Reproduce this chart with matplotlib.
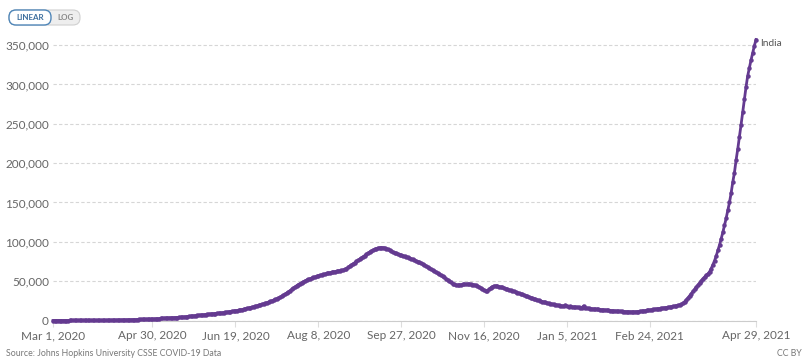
import matplotlib
matplotlib.use("Agg")
import matplotlib.pyplot as plt
from matplotlib.patches import FancyBboxPatch
from matplotlib.transforms import Affine2D
import pandas as pd

# daily new confirmed cases, India (thousands), 7-day average
mar20 = [0, 0, 0, 0, 0, 0, 0, 0, 0, 0, 0.01, 0.01, 0.01, 0.01, 0.02, 0.02, 0.02, 0.03, 0.03, 0.04,
         0.05, 0.06, 0.07, 0.08, 0.08, 0.09, 0.10, 0.11, 0.12, 0.13, 0.14]
apr20 = [0.20, 0.25, 0.30, 0.35, 0.40, 0.45, 0.50, 0.55, 0.60, 0.65, 0.70, 0.75, 0.80, 0.85, 0.90,
         0.95, 1.00, 1.05, 1.10, 1.15, 1.20, 1.30, 1.35, 1.40, 1.45, 1.50, 1.55, 1.60, 1.70, 1.80]
may20 = [1.9, 2.0, 2.2, 2.4, 2.6, 2.8, 3.0, 3.1, 3.2, 3.3, 3.4, 3.5, 3.6, 3.7, 3.8, 3.9, 4.1, 4.3,
         4.5, 4.7, 4.9, 5.1, 5.4, 5.7, 6.0, 6.2, 6.4, 6.6, 6.8, 7.1, 7.4]
jun20 = [7.6, 7.8, 8.0, 8.2, 8.4, 8.6, 8.8, 9.0, 9.2, 9.5, 9.8, 10.1, 10.4, 10.7, 11.0, 11.3, 11.6,
         12.0, 12.3, 12.7, 13.1, 13.5, 13.9, 14.3, 14.8, 15.3, 15.8, 16.4, 16.9, 17.5]
jul20 = [18.0, 18.6, 19.2, 19.8, 20.5, 21.2, 22.0, 22.7, 23.4, 24.2, 25.0, 25.8, 26.7, 27.6, 28.6,
         29.7, 30.8, 32.0, 33.4, 34.9, 36.4, 38.0, 39.6, 41.2, 42.8, 44.3, 45.7, 47.0, 48.2, 49.3, 50.4]
aug20 = [51.4, 52.3, 53.1, 53.9, 54.7, 55.4, 56.1, 56.8, 57.4, 58.0, 58.6, 59.2, 59.8, 60.3, 60.8,
         61.3, 61.8, 62.2, 62.6, 62.9, 63.2, 63.6, 64.2, 65.0, 66.0, 67.5, 69.0, 70.5, 72.0, 73.5, 75.0]
sep20 = [76.5, 78.0, 79.5, 81.0, 82.5, 84.0, 85.5, 87.0, 88.3, 89.5, 90.5, 91.3, 92.0, 92.5, 92.7,
         92.6, 92.3, 91.5, 90.3, 89.0, 87.8, 86.8, 86.0, 85.2, 84.5, 83.8, 83.1, 82.4, 81.7, 81.0]
oct20 = [80.2, 79.4, 78.5, 77.6, 76.7, 75.8, 74.9, 73.9, 72.8, 71.7, 70.5, 69.2, 67.9, 66.6, 65.3,
         64.0, 62.7, 61.4, 60.1, 58.8, 57.5, 56.1, 54.7, 53.2, 51.7, 50.0, 48.3, 46.8, 45.8, 45.2, 45.0]
nov20 = [45.2, 45.5, 45.8, 46.0, 46.2, 46.3, 46.2, 46.0, 45.7, 45.3, 44.7, 43.8, 42.6, 41.2, 39.8,
         38.6, 37.8, 38.0, 39.5, 41.5, 43.0, 43.8, 44.0, 43.7, 43.2, 42.6, 42.0, 41.3, 40.6, 39.9]
dec20 = [39.2, 38.5, 37.7, 36.9, 36.2, 35.4, 34.6, 33.9, 33.1, 32.3, 31.6, 30.8, 30.0, 29.2, 28.4,
         27.6, 26.9, 26.2, 25.5, 24.8, 24.1, 23.5, 22.9, 22.3, 21.8, 21.3, 20.8, 20.4, 20.0, 19.6, 19.2]
jan21 = [18.9, 18.6, 18.3, 19.5, 17.8, 17.6, 17.9, 17.4, 17.2, 17.0, 16.8, 16.6, 16.4, 16.3, 18.5,
         16.0, 15.8, 15.5, 15.2, 14.9, 14.7, 14.5, 14.3, 14.1, 13.9, 13.7, 13.5, 13.3, 13.1, 12.9, 12.7]
feb21 = [12.6, 12.4, 12.2, 12.0, 11.8, 11.6, 11.5, 11.4, 11.3, 11.2, 11.1, 11.0, 11.0, 11.0, 11.1,
         11.2, 11.4, 11.6, 11.9, 12.2, 12.5, 12.8, 13.1, 13.4, 13.7, 14.0, 14.3, 14.6]
mar21 = [14.9, 15.2, 15.5, 15.8, 16.1, 16.4, 16.7, 17.0, 17.4, 17.8, 18.2, 18.7, 19.2, 19.8, 20.5,
         22.0, 24.0, 26.3, 28.8, 31.5, 34.2, 36.9, 39.6, 42.4, 45.2, 47.9, 50.6, 53.2, 55.4, 57.4, 59.3]
apr21 = [62, 66, 71, 76, 82, 89, 96, 104, 112, 121, 130, 140, 150, 162, 176, 188, 204, 218, 233,
         249, 265, 281, 297, 311, 321, 331, 340, 349, 357]

tick_dates = ["2020-03-01", "2020-04-30", "2020-06-19", "2020-08-08", "2020-09-27",
              "2020-11-16", "2021-01-05", "2021-02-24", "2021-04-29"]
tick_labels = ["Mar 1, 2020", "Apr 30, 2020", "Jun 19, 2020", "Aug 8, 2020", "Sep 27, 2020",
               "Nov 16, 2020", "Jan 5, 2021", "Feb 24, 2021", "Apr 29, 2021"]
y_ticks = [0, 50000, 100000, 150000, 200000, 250000, 300000, 350000]

values = [v * 1000 for v in mar20 + apr20 + may20 + jun20 + jul20 + aug20 + sep20 + oct20
          + nov20 + dec20 + jan21 + feb21 + mar21 + apr21]
dates = pd.date_range("2020-03-01", periods=len(values), freq="D")

plt.rcParams["font.family"] = ["Lato", "DejaVu Sans"]
W, H = 808, 362
fig = plt.figure(figsize=(W / 100, H / 100), dpi=100)
ax = fig.add_axes([53 / W, (H - 320.5) / H, (756 - 53) / W, 290.5 / H])

purple = "#643a90"
ax.plot(dates, values, color=purple, lw=2.0, marker="o", ms=2.2, mec=purple, clip_on=False, zorder=3)

ax.set_xlim(dates[0], dates[-1])
ax.set_ylim(0, 369200)
ax.set_yticks(y_ticks)
ax.set_yticklabels([f"{v:,}" for v in y_ticks])
ax.set_xticks(pd.to_datetime(tick_dates))
ax.set_xticklabels(tick_labels)

ax.grid(axis="y", color="#d6d6d6", lw=0.8, ls=(0, (3, 2)))
ax.set_axisbelow(True)
for s in ["top", "right", "left"]:
    ax.spines[s].set_visible(False)
ax.spines["bottom"].set_color("#cccccc")
ax.spines["bottom"].set_linewidth(0.8)
ax.tick_params(axis="y", length=0, pad=3, labelsize=8.5, labelcolor="#666666")
ax.tick_params(axis="x", length=4, width=0.8, color="#dddddd", pad=3, labelsize=8.5,
               labelcolor="#666666")

ax.annotate("India", xy=(dates[-1], values[-1]), xytext=(3, -3), textcoords="offset points",
            fontsize=7.3, color="#555555", va="center", ha="left", annotation_clip=False)

# pixel transform for header / footer pieces
px = Affine2D().scale(1 / W, 1 / H) + fig.transFigure

def py(y):
    return H - y

fig.add_artist(FancyBboxPatch((9, py(25)), 71, 15, boxstyle="round,pad=0,rounding_size=7",
                              fc="#eeeeee", ec="#d0d0d0", lw=0.8, transform=px))
fig.add_artist(FancyBboxPatch((9, py(25)), 42, 15, boxstyle="round,pad=0,rounding_size=7",
                              fc="white", ec="#4f86b8", lw=1.0, transform=px))
fig.text(30, py(17.5), "LINEAR", transform=px, fontsize=5.8, color="#3d6f9e",
         ha="center", va="center", fontweight="bold")
fig.text(65.5, py(17.5), "LOG", transform=px, fontsize=5.8, color="#888888",
         ha="center", va="center", fontweight="bold")

fig.text(6, py(353), "Source: Johns Hopkins University CSSE COVID-19 Data", transform=px,
         fontsize=6.3, color="#777777", ha="left", va="center")
fig.text(802, py(353), "CC BY", transform=px, fontsize=6.3, color="#777777", ha="right", va="center")

fig.savefig("out.png", dpi=100)
